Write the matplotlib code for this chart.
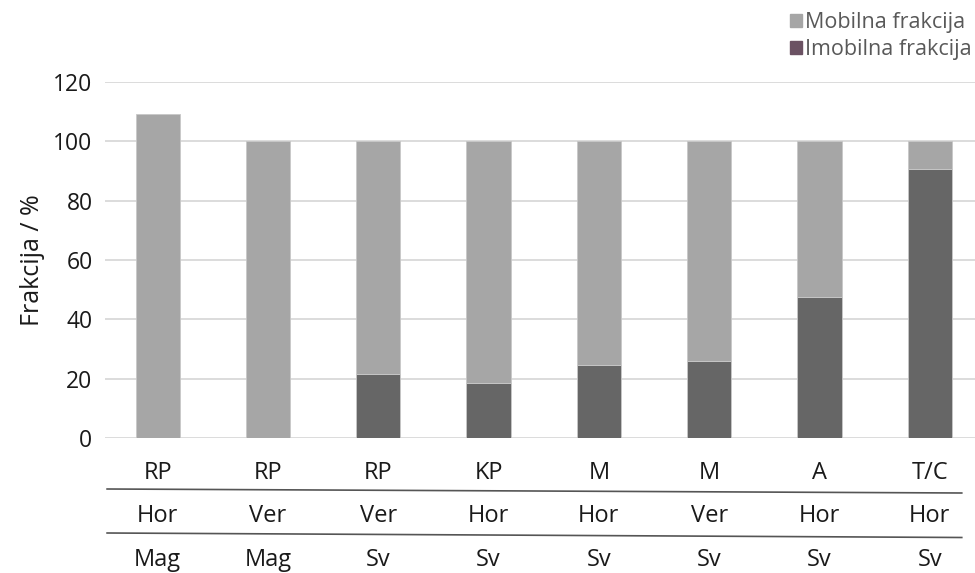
import matplotlib
matplotlib.use("Agg")
import matplotlib.pyplot as plt
from matplotlib.patches import Patch
from matplotlib.lines import Line2D

plt.rcParams['font.family'] = ['Open Sans', 'DejaVu Sans']

row1 = ["RP", "RP", "RP", "KP", "M", "M", "A", "T/C"]
row2 = ["Hor", "Ver", "Ver", "Hor", "Hor", "Ver", "Hor", "Hor"]
row3 = ["Mag", "Mag", "Sv", "Sv", "Sv", "Sv", "Sv", "Sv"]
imobilna = [0, 0, 21.6, 18.5, 24.6, 26.0, 47.6, 90.6]
mobilna = [109.1, 100, 78.4, 81.5, 75.4, 74.0, 52.4, 9.4]
yticks = [0, 20, 40, 60, 80, 100, 120]

TXT = "#1a1a1a"

fig = plt.figure(figsize=(9.75, 5.73), dpi=100)
ax = fig.add_axes([105/975, 1-438/573, 1-105/975, 356/573])

x = list(range(len(row1)))
w = 0.4
ax.bar(x, imobilna, width=w, color="#666666", edgecolor="#c8c8c8", linewidth=0.6, zorder=3)
ax.bar(x, mobilna, bottom=imobilna, width=w, color="#a6a6a6", edgecolor="#c8c8c8", linewidth=0.6, zorder=3)

ax.set_xlim(-0.477, 7.41)
ax.set_ylim(0, 120)
ax.set_yticks(yticks)
ax.set_yticklabels([str(v) for v in yticks], fontsize=16.5, color=TXT)
ax.set_xticks([])
ax.grid(axis='y', color="#d9d9d9", linewidth=1.3, zorder=0)
for s in ax.spines.values():
    s.set_visible(False)
ax.tick_params(axis='y', length=0, pad=9)
ax.set_ylabel("Frakcija / %", fontsize=18, color=TXT, labelpad=6)

trans = ax.get_xaxis_transform()
for i in x:
    ax.text(i, -0.097, row1[i], transform=trans, ha='center', va='center', fontsize=17, color=TXT, clip_on=False)
    ax.text(i, -0.218, row2[i], transform=trans, ha='center', va='center', fontsize=17, color=TXT, clip_on=False)
    ax.text(i, -0.343, row3[i], transform=trans, ha='center', va='center', fontsize=17, color=TXT, clip_on=False)

def yfrac(py):
    return (438 - py) / 356

for yl, yr in [(489, 493), (533, 537.5)]:
    ax.add_line(Line2D([-0.458, 7.29], [yfrac(yl), yfrac(yr)], transform=trans,
                       color="#555555", linewidth=1.2, clip_on=False))

handles = [Patch(color="#a6a6a6", label="Mobilna frakcija"),
           Patch(color="#6b5263", label="Imobilna frakcija")]
leg = fig.legend(handles=handles, loc='upper left', bbox_to_anchor=(790/975, 1-12/573),
                 frameon=False, fontsize=15.5, handlelength=0.55, handleheight=0.55,
                 handletextpad=0.15, labelspacing=0.3, borderaxespad=0, borderpad=0)
for t in leg.get_texts():
    t.set_color("#595959")

fig.savefig("out.png", dpi=100)
